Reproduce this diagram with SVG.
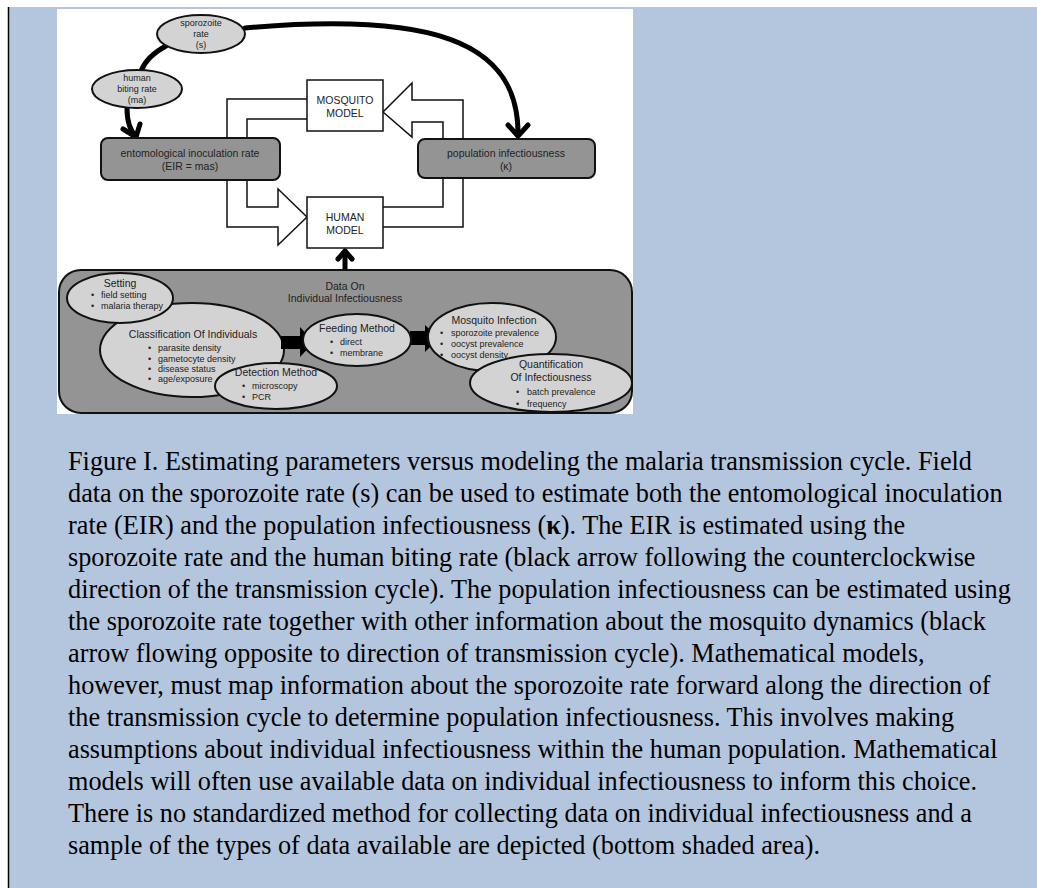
<svg xmlns="http://www.w3.org/2000/svg" width="1037" height="888" viewBox="0 0 1037 888">
<defs>
<style>
.sans{font-family:"Liberation Sans",Arial,sans-serif;fill:#222}
.t9{font-size:9px}
.t10{font-size:10.5px}
.box{fill:#949494;stroke:#111;stroke-width:2}
.wbox{fill:#fff;stroke:#111;stroke-width:1.5}
.hollow{fill:#fff;stroke:#111;stroke-width:1.5;stroke-linejoin:miter}
.chan{fill:none;stroke:#111;stroke-width:1.5;stroke-linejoin:miter}
.ell{fill:#d3d3d3;stroke:#111;stroke-width:2}
.thick{fill:none;stroke:#000;stroke-width:5;stroke-linecap:round;stroke-linejoin:round}
.cap{font-family:"Liberation Serif","Times New Roman",serif;font-size:26.25px;fill:#000}
</style>
</defs>
<rect x="0" y="0" width="1037" height="888" fill="#fff"/>
<rect x="8" y="7" width="1029" height="881" fill="#b4c6de"/>
<line x1="8.5" y1="7" x2="8.5" y2="888" stroke="#000" stroke-width="1.5"/>
<rect x="57" y="9" width="576" height="405" fill="#fff"/>

<g id="connectors">
<polygon class="hollow" points="227,180 227,227 278,227 278,245 307,217 278,189 278,207 247,207 247,180"/>
<polyline class="chan" points="227,138 227,99 307,99"/>
<polyline class="chan" points="247,138 247,119 307,119"/>
<polygon class="hollow" points="463,139 463,100 412,100 412,83 383,112 412,137 412,122 443,122 443,139"/>
<polyline class="chan" points="383,207 443,207 443,178"/>
<polyline class="chan" points="383,227 463,227 463,178"/>
<path class="thick" d="M245,28 C430,12 518,40 518,133"/>
<polyline class="thick" points="508,125 518,136 528,125"/>
<path class="thick" d="M166,46 Q147,56 141,71"/>
<path class="thick" d="M127,108 Q127,128 136,136"/>
<polyline class="thick" points="123,129 136,137 140,124"/>
<line x1="345" y1="270" x2="345" y2="252" stroke="#000" stroke-width="5"/>
<polyline class="thick" points="338,259 345,251 352,259"/>
</g>

<g id="sporozoite">
<ellipse class="ell" cx="201" cy="34" rx="44" ry="19" stroke-width="1.5"/>
<text class="sans t9" text-anchor="middle"><tspan x="201" y="26">sporozoite</tspan><tspan x="201" y="37">rate</tspan><tspan x="201" y="48">(s)</tspan></text>
</g>
<g id="biting">
<ellipse class="ell" cx="137" cy="89" rx="45" ry="19" stroke-width="1.5"/>
<text class="sans t9" text-anchor="middle"><tspan x="137" y="81">human</tspan><tspan x="137" y="92">biting rate</tspan><tspan x="137" y="103">(ma)</tspan></text>
</g>
<g id="eir">
<rect class="box" x="101" y="138" width="179" height="42" rx="7"/>
<text class="sans t10" text-anchor="middle"><tspan x="190" y="157">entomological inoculation rate</tspan><tspan x="190" y="170">(EIR = mas)</tspan></text>
</g>
<g id="popinf">
<rect class="box" x="418" y="139" width="177" height="39" rx="7"/>
<text class="sans t10" text-anchor="middle"><tspan x="506" y="157">population infectiousness</tspan><tspan x="506" y="170">(κ)</tspan></text>
</g>
<g id="mosquito">
<rect class="wbox" x="307" y="80" width="76" height="51"/>
<text class="sans t10" text-anchor="middle"><tspan x="345" y="104">MOSQUITO</tspan><tspan x="345" y="117">MODEL</tspan></text>
</g>
<g id="human">
<rect class="wbox" x="307" y="197" width="76" height="51"/>
<text class="sans t10" text-anchor="middle"><tspan x="345" y="221">HUMAN</tspan><tspan x="345" y="234">MODEL</tspan></text>
</g>

<g id="panel">
<rect x="59" y="270" width="573" height="143" rx="22" fill="#949494" stroke="#111" stroke-width="2"/>
<text class="sans t10" text-anchor="middle"><tspan x="345" y="290">Data On</tspan><tspan x="345" y="302">Individual Infectiousness</tspan></text>
</g>
<g id="classification">
<ellipse class="ell" cx="192" cy="350" rx="92" ry="47"/>
<text class="sans t10" x="193" y="338" text-anchor="middle">Classification Of Individuals</text>
<text class="sans t9"><tspan x="148" y="351">•</tspan><tspan x="158" y="351">parasite density</tspan><tspan x="148" y="362">•</tspan><tspan x="158" y="362">gametocyte density</tspan><tspan x="148" y="372">•</tspan><tspan x="158" y="372">disease status</tspan><tspan x="148" y="382">•</tspan><tspan x="158" y="382">age/exposure</tspan></text>
</g>
<g id="setting">
<ellipse class="ell" cx="120" cy="298" rx="53" ry="25"/>
<text class="sans t10" x="120" y="287" text-anchor="middle">Setting</text>
<text class="sans t9"><tspan x="91" y="298">•</tspan><tspan x="101" y="298">field setting</tspan><tspan x="91" y="309">•</tspan><tspan x="101" y="309">malaria therapy</tspan></text>
</g>
<g id="detection">
<ellipse class="ell" cx="276" cy="386" rx="61" ry="23"/>
<text class="sans t10" x="276" y="376" text-anchor="middle">Detection Method</text>
<text class="sans t9"><tspan x="242" y="389">•</tspan><tspan x="252" y="389">microscopy</tspan><tspan x="242" y="400">•</tspan><tspan x="252" y="400">PCR</tspan></text>
</g>
<g id="panel-arrows">
<polygon points="281,336 300,336 300,327 314,342 300,357 300,349 281,349" fill="#000"/>
<polygon points="410,331 425,331 425,325 439,338 425,352 425,345 410,345" fill="#000"/>
</g>
<g id="feeding">
<ellipse class="ell" cx="357" cy="340" rx="54" ry="26"/>
<text class="sans t10" x="357" y="332" text-anchor="middle">Feeding Method</text>
<text class="sans t9"><tspan x="330" y="345">•</tspan><tspan x="340" y="345">direct</tspan><tspan x="330" y="356">•</tspan><tspan x="340" y="356">membrane</tspan></text>
</g>
<g id="mosqinf">
<ellipse class="ell" cx="492" cy="337" rx="64" ry="34"/>
<text class="sans t10" x="494" y="324" text-anchor="middle">Mosquito Infection</text>
<text class="sans t9"><tspan x="440" y="336">•</tspan><tspan x="451" y="336">sporozoite prevalence</tspan><tspan x="440" y="347">•</tspan><tspan x="451" y="347">oocyst prevalence</tspan><tspan x="440" y="358">•</tspan><tspan x="451" y="358">oocyst density</tspan></text>
</g>
<g id="quant">
<ellipse class="ell" cx="551" cy="383" rx="81" ry="29"/>
<text class="sans t10" text-anchor="middle"><tspan x="551" y="368">Quantification</tspan><tspan x="551" y="381">Of Infectiousness</tspan></text>
<text class="sans t9"><tspan x="516" y="395">•</tspan><tspan x="527" y="395">batch prevalence</tspan><tspan x="516" y="407">•</tspan><tspan x="527" y="407">frequency</tspan></text>
</g>

<g id="caption">
<text class="cap">
<tspan x="68" y="470">Figure I. Estimating parameters versus modeling the malaria transmission cycle. Field</tspan>
<tspan x="68" y="502">data on the sporozoite rate (s) can be used to estimate both the entomological inoculation</tspan>
<tspan x="68" y="534">rate (EIR) and the population infectiousness (<tspan font-weight="bold">κ</tspan>). The EIR is estimated using the</tspan>
<tspan x="68" y="566">sporozoite rate and the human biting rate (black arrow following the counterclockwise</tspan>
<tspan x="68" y="598">direction of the transmission cycle). The population infectiousness can be estimated using</tspan>
<tspan x="68" y="630">the sporozoite rate together with other information about the mosquito dynamics (black</tspan>
<tspan x="68" y="662">arrow flowing opposite to direction of transmission cycle). Mathematical models,</tspan>
<tspan x="68" y="694">however, must map information about the sporozoite rate forward along the direction of</tspan>
<tspan x="68" y="726">the transmission cycle to determine population infectiousness. This involves making</tspan>
<tspan x="68" y="758">assumptions about individual infectiousness within the human population. Mathematical</tspan>
<tspan x="68" y="790">models will often use available data on individual infectiousness to inform this choice.</tspan>
<tspan x="68" y="822">There is no standardized method for collecting data on individual infectiousness and a</tspan>
<tspan x="68" y="854">sample of the types of data available are depicted (bottom shaded area).</tspan>
</text>
</g>
</svg>
